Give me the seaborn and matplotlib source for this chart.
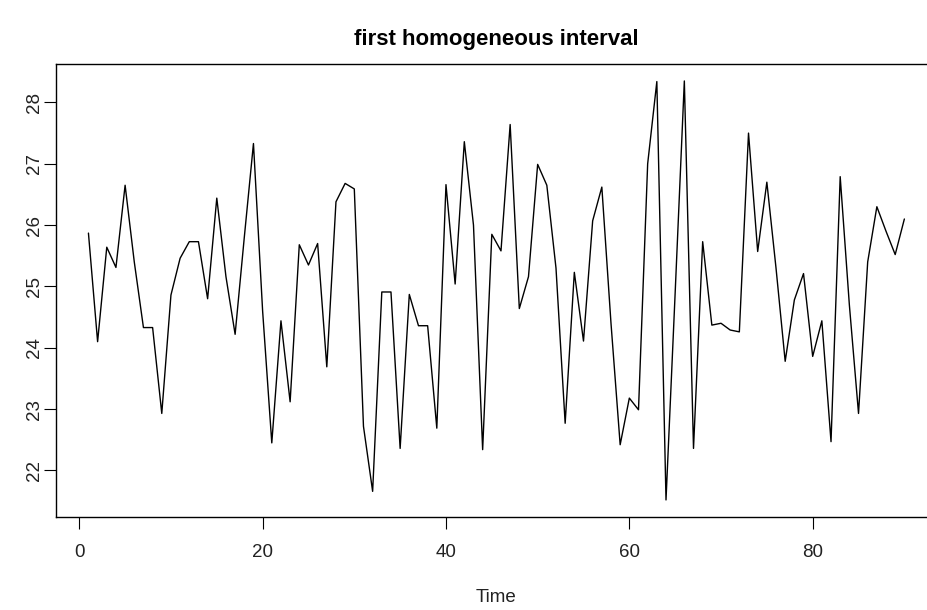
import numpy as np
import pandas as pd
import matplotlib
matplotlib.use("Agg")
import matplotlib.pyplot as plt
import seaborn as sns

time = list(range(1, 91))
values = [
    25.87, 24.10, 25.64, 25.31, 26.65, 25.40, 24.33, 24.33, 22.93, 24.86,
    25.46, 25.73, 25.73, 24.80, 26.44, 25.16, 24.22, 25.80, 27.33, 24.60,
    22.45, 24.44, 23.12, 25.68, 25.35, 25.70, 23.69, 26.38, 26.68, 26.59,
    22.72, 21.66, 24.91, 24.91, 22.36, 24.87, 24.36, 24.36, 22.69, 26.66,
    25.04, 27.36, 26.00, 22.34, 25.85, 25.58, 27.64, 24.64, 25.16, 26.99,
    26.65, 25.30, 22.77, 25.23, 24.11, 26.07, 26.62, 24.40, 22.42, 23.18,
    22.99, 27.00, 28.34, 21.52, 24.90, 28.35, 22.36, 25.73, 24.37, 24.40,
    24.29, 24.26, 27.50, 25.57, 26.70, 25.30, 23.78, 24.78, 25.21, 23.86,
    24.44, 22.47, 26.79, 24.70, 22.93, 25.40, 26.30, 25.90, 25.52, 26.10,
]
x_ticks = [0, 20, 40, 60, 80]
y_ticks = [22, 23, 24, 25, 26, 27, 28]
title = "first homogeneous interval"
x_label = "Time"

df = pd.DataFrame({"Time": time, "value": values})

sns.set_style("ticks")
plt.rcParams["font.family"] = ["Liberation Sans", "DejaVu Sans"]

W, H = 928, 610
fig = plt.figure(figsize=(W / 100, H / 100), dpi=100)
left_px, right_px, top_px, bottom_px = 55.8, 937.0, 64.2, 516.7
ax = fig.add_axes([left_px / W, 1 - bottom_px / H,
                   (right_px - left_px) / W, (bottom_px - top_px) / H])

sns.lineplot(data=df, x="Time", y="value", color="black", linewidth=1.0,
             ax=ax, estimator=None)

n = len(time)
xr = time[-1] - time[0]
ax.set_xlim(time[0] - 0.04 * xr, time[-1] + 0.04 * xr)
vmin, vmax = min(values), max(values)
yr = vmax - vmin
ax.set_ylim(vmin - 0.04 * yr, vmax + 0.04 * yr)

ax.set_xticks(x_ticks)
ax.set_yticks(y_ticks)
ax.set_xticklabels([str(v) for v in x_ticks])
ax.set_yticklabels([str(v) for v in y_ticks])
ax.tick_params(axis="both", length=8.3, width=0.8, color="black",
               labelsize=13.5, labelcolor="#222222")
ax.tick_params(axis="x", pad=11)
ax.tick_params(axis="y", pad=1, labelrotation=90)
for lab in ax.get_yticklabels():
    lab.set_va("center")

for s in ax.spines.values():
    s.set_visible(True)
    s.set_linewidth(1.0)
    s.set_color("black")

ax.set_xlabel("")
ax.set_ylabel("")
fig.text(0.5 * (left_px + right_px) / W, 1 - 597 / H, x_label,
         ha="center", va="center", fontsize=13.5, color="#222222")
fig.text(0.5 * (left_px + right_px) / W, 1 - 40 / H, title,
         ha="center", va="center", fontsize=16, fontweight="bold",
         color="black")

fig.savefig("out.png", dpi=100, facecolor="white")
